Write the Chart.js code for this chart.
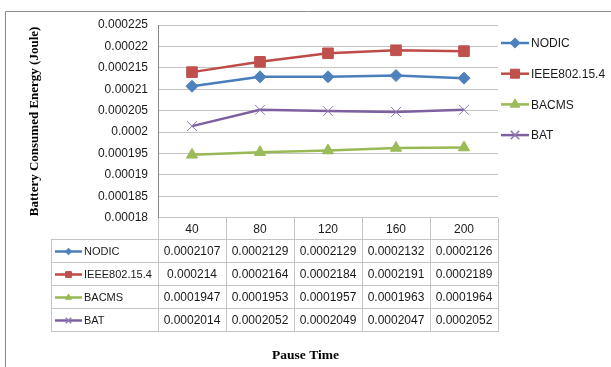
<!DOCTYPE html>
<html lang="en">
<head>
<meta charset="UTF-8" />
<title>Battery Consumed Energy vs Pause Time</title>
<script src="https://cdn.jsdelivr.net/npm/chart.js"></script>
<style>
  html, body { margin: 0; padding: 0; background: #fff; }
  #wrap { width: 611px; height: 367px; }
</style>
</head>
<body>
<div id="wrap"><canvas id="energyChart" width="611" height="367"></canvas></div>
<script>
  const pauseTimes = ['40', '80', '120', '160', '200'];
  const nodic = [0.0002107, 0.0002129, 0.0002129, 0.0002132, 0.0002126];
  const ieee = [0.000214, 0.0002164, 0.0002184, 0.0002191, 0.0002189];
  const bacms = [0.0001947, 0.0001953, 0.0001957, 0.0001963, 0.0001964];
  const bat = [0.0002014, 0.0002052, 0.0002049, 0.0002047, 0.0002052];
  const yTicks = [0.00018, 0.000185, 0.00019, 0.000195, 0.0002, 0.000205, 0.00021, 0.000215, 0.00022, 0.000225];

  const SANS = "'Liberation Sans', Arial, sans-serif";
  const SERIF = "'Liberation Serif', 'Times New Roman', serif";

  function series(label, data, line, fill, style, radius) {
    return {
      label: label, data: data,
      borderColor: line, backgroundColor: fill,
      borderWidth: 2.5, tension: 0,
      pointStyle: style, pointRadius: radius, pointHoverRadius: radius,
      pointBackgroundColor: fill, pointBorderColor: fill, pointBorderWidth: 1
    };
  }

  function marker(ctx, ds, x, y, scale) {
    ctx.save();
    ctx.fillStyle = ds.pointBackgroundColor;
    ctx.strokeStyle = ds.pointBorderColor;
    ctx.lineWidth = ds.pointStyle === 'crossRot' ? 1.5 : 1;
    Chart.helpers.drawPoint(ctx, {
      pointStyle: ds.pointStyle, radius: ds.pointRadius * scale,
      rotation: 0, borderWidth: ctx.lineWidth
    }, x, y);
    ctx.restore();
  }

  function keyLine(ctx, ds, x0, x1, y, scale) {
    ctx.save();
    ctx.strokeStyle = ds.borderColor;
    ctx.lineWidth = 2.5;
    ctx.beginPath(); ctx.moveTo(x0, y); ctx.lineTo(x1, y); ctx.stroke();
    ctx.restore();
    marker(ctx, ds, (x0 + x1) / 2, y, scale);
  }

  // outer frame, data table under the plot and legend on the right
  const tablePlugin = {
    id: 'tablePlugin',
    beforeDraw(chart) {
      const ctx = chart.ctx;
      ctx.save();
      ctx.strokeStyle = '#8a8a8a';
      ctx.lineWidth = 1;
      ctx.beginPath();
      ctx.moveTo(5.5, 367); ctx.lineTo(5.5, 11.5); ctx.lineTo(611, 11.5);
      ctx.stroke();
      ctx.restore();
    },
    afterDraw(chart) {
      const ctx = chart.ctx;
      const area = chart.chartArea;
      const xs = chart.scales.x;
      const sets = chart.data.datasets;
      const colW = (area.right - area.left) / pauseTimes.length;
      const top = Math.round(area.bottom);
      const headH = 21, rowH = 23, keyLeft = 51;
      const bottom = top + headH + rowH * sets.length;

      ctx.save();
      ctx.strokeStyle = '#c4c4c4';
      ctx.lineWidth = 1;
      ctx.beginPath();
      for (let r = 0; r <= sets.length; r++) {
        const y = top + headH + r * rowH + 0.5;
        ctx.moveTo(keyLeft, y); ctx.lineTo(area.right, y);
      }
      ctx.moveTo(keyLeft + 0.5, top + headH); ctx.lineTo(keyLeft + 0.5, bottom + 1);
      for (let c = 0; c <= pauseTimes.length; c++) {
        const x = Math.round(area.left + c * colW) + 0.5;
        ctx.moveTo(x, top); ctx.lineTo(x, bottom + 1);
      }
      ctx.stroke();

      ctx.fillStyle = '#1a1a1a';
      ctx.textBaseline = 'middle';
      ctx.textAlign = 'center';
      ctx.font = '12px ' + SANS;
      pauseTimes.forEach((t, i) => ctx.fillText(t, xs.getPixelForValue(i), top + headH / 2 + 1));
      sets.forEach((ds, r) => {
        const y = top + headH + r * rowH + rowH / 2 + 1;
        keyLine(ctx, ds, keyLeft + 4, keyLeft + 31, y, 0.55);
        ctx.fillStyle = '#1a1a1a';
        ctx.textAlign = 'left';
        ctx.font = '11px ' + SANS;
        ctx.fillText(ds.label, keyLeft + 33, y);
        ctx.textAlign = 'center';
        ctx.font = '12px ' + SANS;
        ds.data.forEach((v, i) => ctx.fillText(String(v), xs.getPixelForValue(i), y));
      });

      // legend
      ctx.font = '12px ' + SANS;
      sets.forEach((ds, i) => {
        const y = area.top + 18 + i * 30.7;
        keyLine(ctx, ds, area.right + 3, area.right + 31, y, 0.85);
        ctx.fillStyle = '#1a1a1a';
        ctx.textAlign = 'left';
        ctx.fillText(ds.label, area.right + 33, y + 1);
      });
      ctx.restore();
    }
  };

  new Chart(document.getElementById('energyChart'), {
    type: 'line',
    data: {
      labels: pauseTimes,
      datasets: [
        series('NODIC', nodic, '#4a7ebb', '#4f81bd', 'rectRot', 6),
        series('IEEE802.15.4', ieee, '#be4b48', '#c0504d', 'rect', 7.5),
        series('BACMS', bacms, '#98b954', '#9bbb59', 'triangle', 6.5),
        series('BAT', bat, '#7d60a0', '#8f78b4', 'crossRot', 7)
      ]
    },
    options: {
      responsive: false,
      animation: false,
      layout: { padding: { left: 0, top: 25, right: 0, bottom: 0 } },
      plugins: {
        legend: { display: false },
        tooltip: { enabled: false },
        title: {
          display: true, position: 'bottom', text: 'Pause Time', color: '#000',
          font: { family: SERIF, size: 13.5, weight: 'bold' },
          padding: { top: 0, bottom: 3 }
        }
      },
      scales: {
        x: {
          type: 'category', offset: true,
          ticks: { display: false },
          grid: { display: false },
          border: { display: false },
          afterFit(s) { s.height = 130; }
        },
        y: {
          min: 0.00018, max: 0.000225,
          afterBuildTicks(s) { s.ticks = yTicks.map(v => ({ value: v })); },
          afterFit(s) { s.width = 158; },
          ticks: {
            padding: 10, color: '#1a1a1a',
            font: { family: SANS, size: 12 },
            callback: v => String(v)
          },
          grid: { color: '#c4c4c4', drawTicks: false },
          border: { color: '#868686' },
          title: {
            display: true, text: 'Battery Consumed Energy (Joule)', color: '#000',
            font: { family: SERIF, size: 13, weight: 'bold' },
            padding: { top: 27, bottom: 0 }
          }
        },
        // empty box on the right that keeps room for the legend
        side: {
          position: 'right', min: 0, max: 1,
          ticks: { display: false },
          grid: { display: false },
          border: { display: false },
          afterFit(s) { s.width = 113; }
        }
      }
    },
    plugins: [tablePlugin]
  });
</script>
</body>
</html>
